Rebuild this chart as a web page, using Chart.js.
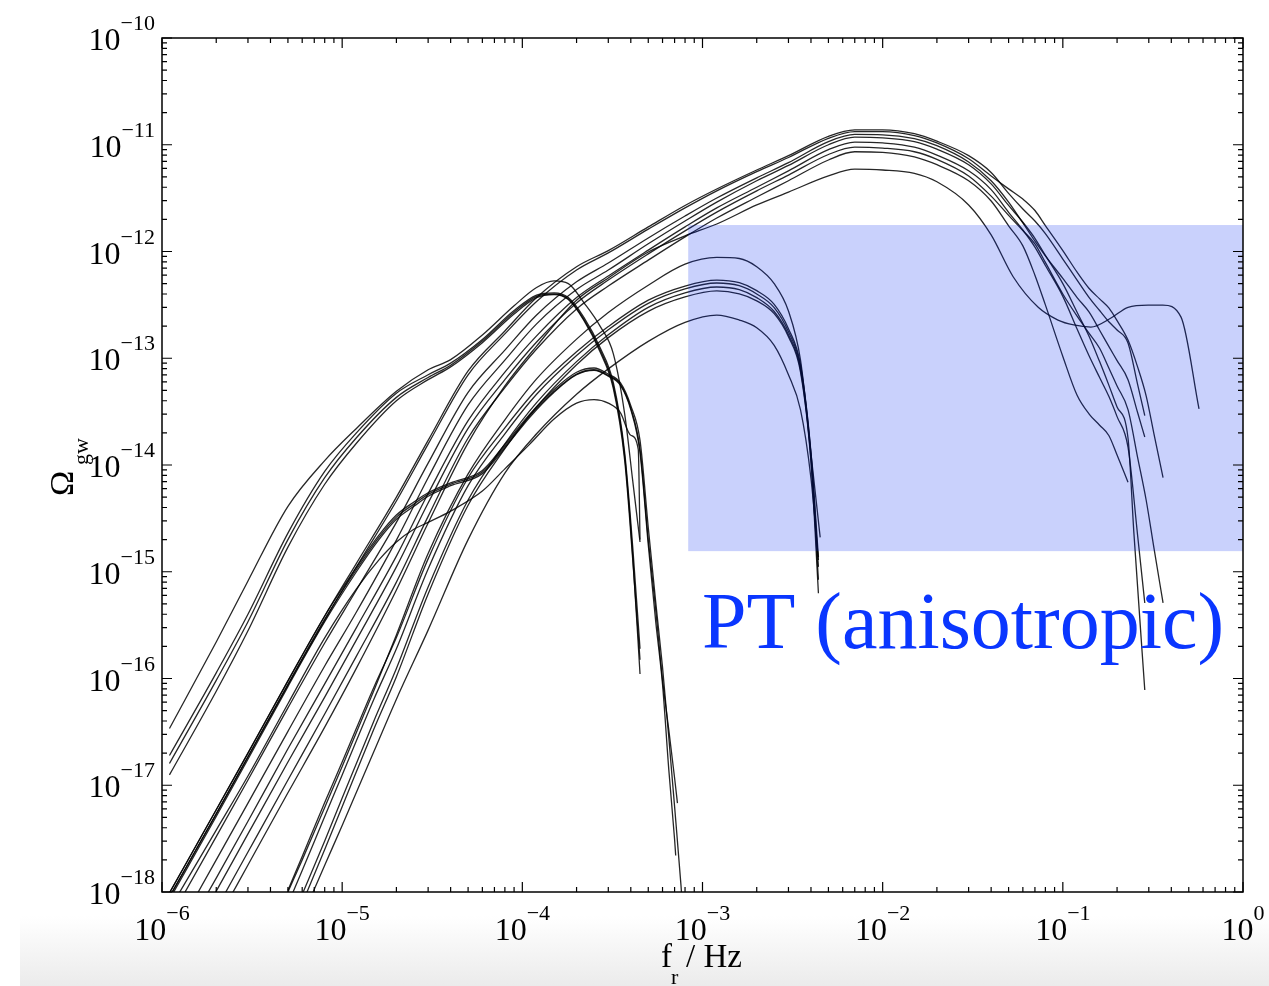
<!DOCTYPE html>
<html><head><meta charset="utf-8">
<script src="https://cdn.jsdelivr.net/npm/chart.js@4.4.1/dist/chart.umd.min.js"></script>
<style>
html,body{margin:0;padding:0;background:#fff;}
#wrap{position:relative;width:1269px;height:986px;overflow:hidden;}
#band{position:absolute;left:20px;top:916px;width:1249px;height:70px;background:linear-gradient(#ffffff,#ebebeb);}
canvas{position:absolute;left:0;top:0;}
</style></head><body>
<div id="wrap"><div id="band"></div><canvas id="c" width="1269" height="986"></canvas></div>
<script>
// ---------- axis ticks / labels ----------
const xMajor = [1e-6, 1e-5, 1e-4, 1e-3, 1e-2, 1e-1, 1];
const xExp = ['\u22126', '\u22125', '\u22124', '\u22123', '\u22122', '\u22121', '0'];
const yMajor = [1e-18, 1e-17, 1e-16, 1e-15, 1e-14, 1e-13, 1e-12, 1e-11, 1e-10];
const yExp = ['\u221218', '\u221217', '\u221216', '\u221215', '\u221214', '\u221213', '\u221212', '\u221211', '\u221210'];
const xTitle = ['f', 'r', '/ Hz'];
const yTitle = ['\u03A9', 'gw'];
const regionLabel = 'PT (anisotropic)';
const ptRegion = [8.33e-4, 1, 1.56e-15, 1.77e-12]; // f min, f max, Omega min, Omega max

// ---------- shoulder family ----------
const fS = [1.1e-6, 2e-6, 3e-6, 5e-6, 8e-6, 1.2e-5, 2e-5, 3e-5, 4e-5, 6e-5, 9e-5, 1.2e-4, 1.5e-4, 1.8e-4, 2.2e-4, 2.7e-4, 3.2e-4, 3.7e-4, 4.1e-4, 4.5e-4];
const omegaS1 = [3.4e-17, 2.2e-16, 8.2e-16, 4.1e-15, 1.1e-14, 2.2e-14, 4.9e-14, 7.8e-14, 9.7e-14, 1.65e-13, 3.1e-13, 4.6e-13, 5.3e-13, 5.0e-13, 3.3e-13, 2.0e-13, 1.1e-13, 3.0e-14, 7.1e-15, 1.9e-15];
const omegaS2 = [1.9e-17, 1.13e-16, 4.0e-16, 2.3e-15, 8.7e-15, 2.0e-14, 4.7e-14, 7.0e-14, 9.0e-14, 1.5e-13, 2.8e-13, 3.9e-13, 4.1e-13, 3.7e-13, 2.4e-13, 1.26e-13, 5.9e-14, 1.3e-14, 1.7e-15, 1.9e-16];
const omegaS3 = [1.6e-17, 9.6e-17, 3.4e-16, 2.0e-15, 7.6e-15, 1.8e-14, 4.3e-14, 6.6e-14, 8.6e-14, 1.45e-13, 2.7e-13, 3.8e-13, 4.0e-13, 3.6e-13, 2.3e-13, 1.2e-13, 5.5e-14, 1.2e-14, 1.4e-15, 1.1e-16];
const omegaS4 = [1.25e-17, 7.6e-17, 2.8e-16, 1.7e-15, 6.6e-15, 1.6e-14, 4.0e-14, 6.3e-14, 8.3e-14, 1.4e-13, 2.6e-13, 3.7e-13, 3.95e-13, 3.55e-13, 2.25e-13, 1.15e-13, 5.2e-14, 1.1e-14, 1.3e-15, 1.5e-16];

// ---------- kinked family ----------
const fP = [1.1e-6, 2e-6, 3e-6, 5e-6, 8e-6, 1.2e-5, 1.6e-5, 2e-5, 2.5e-5, 3e-5, 4e-5, 6e-5, 8e-5, 1.1e-4, 1.5e-4, 2e-4, 2.5e-4, 3e-4, 3.5e-4, 4e-4, 4.5e-4, 5e-4, 5.5e-4, 6e-4, 6.5e-4, 7e-4];
const fEndP1 = [7.6e-4, 7.8e-4];
const fEndP2 = [7.26e-4];
const fEndP3 = [7.1e-4];
const omegaP1 = [9.8e-19, 5.9e-18, 2.0e-17, 9.5e-17, 3.85e-16, 1.1e-15, 2.2e-15, 3.4e-15, 4.5e-15, 5.5e-15, 6.8e-15, 8.9e-15, 1.56e-14, 3.0e-14, 5.1e-14, 7.4e-14, 8.1e-14, 7.1e-14, 5.9e-14, 3.6e-14, 1.7e-14, 2.6e-15, 5.2e-16, 1.27e-16, 2.8e-17, 6.3e-18, 1.14e-18, 6e-19];
const omegaP2 = [9.0e-19, 5.4e-18, 1.85e-17, 8.8e-17, 3.6e-16, 1.05e-15, 2.1e-15, 3.25e-15, 4.3e-15, 5.3e-15, 6.6e-15, 8.6e-15, 1.5e-14, 2.9e-14, 4.9e-14, 7.1e-14, 7.8e-14, 6.9e-14, 5.7e-14, 3.4e-14, 1.4e-14, 2.0e-15, 4.4e-16, 9.7e-17, 3.3e-17, 1.17e-17, 6.8e-18];
const omegaP3 = [8.5e-19, 5.1e-18, 1.75e-17, 8.4e-17, 3.4e-16, 1.0e-15, 2.0e-15, 3.1e-15, 4.1e-15, 5.1e-15, 6.4e-15, 8.3e-15, 1.45e-14, 2.8e-14, 4.8e-14, 7.0e-14, 7.7e-14, 6.8e-14, 5.6e-14, 3.3e-14, 1.3e-14, 1.78e-15, 3.4e-16, 8.8e-17, 1.4e-17, 3.1e-18, 2.2e-18];
const fP4 = [1.2e-6, 2e-6, 3e-6, 5e-6, 8e-6, 1.2e-5, 1.6e-5, 2e-5, 2.5e-5, 3e-5, 4e-5, 6e-5, 8e-5, 1.1e-4, 1.5e-4, 2e-4, 2.5e-4, 3e-4, 3.5e-4, 4e-4, 4.4e-4, 4.5e-4];
const omegaP4 = [8.8e-19, 3.8e-18, 1.22e-17, 5.8e-17, 2.4e-16, 6.9e-16, 1.29e-15, 1.9e-15, 2.5e-15, 2.9e-15, 3.7e-15, 5.7e-15, 9.2e-15, 1.57e-14, 2.7e-14, 3.8e-14, 4.1e-14, 3.8e-14, 3.1e-14, 1.9e-14, 1.4e-14, 2.0e-15];

// ---------- broad family (peak near 7e-3) ----------
const fB = [1.1e-6, 2e-6, 3e-6, 5e-6, 8e-6, 1.2e-5, 2e-5, 3e-5, 5e-5, 8e-5, 1.2e-4, 2e-4, 3e-4, 5e-4, 8e-4, 1.2e-3, 2e-3, 3e-3, 5e-3, 7e-3, 1e-2, 1.5e-2, 2e-2, 3e-2, 4e-2];
const omegaB1 = [9.8e-19, 5.9e-18, 2.0e-17, 9.5e-17, 3.85e-16, 1.2e-15, 5.0e-15, 1.7e-14, 7.6e-14, 1.8e-13, 3.7e-13, 7.2e-13, 1.02e-12, 1.7e-12, 2.7e-12, 3.85e-12, 5.8e-12, 7.9e-12, 1.2e-11, 1.38e-11, 1.38e-11, 1.27e-11, 1.08e-11, 7.9e-12, 5.5e-12];
const omegaB2 = [9.0e-19, 5.4e-18, 1.84e-17, 8.7e-17, 3.5e-16, 1.11e-15, 4.6e-15, 1.57e-14, 7.0e-14, 1.69e-13, 3.4e-13, 6.7e-13, 9.7e-13, 1.62e-12, 2.56e-12, 3.7e-12, 5.6e-12, 7.6e-12, 1.15e-11, 1.33e-11, 1.33e-11, 1.22e-11, 1.04e-11, 7.4e-12, 5.1e-12];
const omegaB3 = [5.5e-19, 3.3e-18, 1.12e-17, 5.3e-17, 2.15e-16, 6.75e-16, 2.9e-15, 1.04e-14, 4.8e-14, 1.19e-13, 2.54e-13, 5.2e-13, 7.8e-13, 1.34e-12, 2.15e-12, 3.17e-12, 4.9e-12, 6.8e-12, 1.07e-11, 1.25e-11, 1.24e-11, 1.14e-11, 9.8e-12, 6.9e-12, 4.6e-12];
const omegaB4 = [3.3e-19, 2.0e-18, 6.8e-18, 3.2e-17, 1.31e-16, 4.2e-16, 1.98e-15, 7.6e-15, 3.65e-14, 9.6e-14, 2.1e-13, 4.4e-13, 6.7e-13, 1.18e-12, 1.93e-12, 2.9e-12, 4.6e-12, 6.4e-12, 1.0e-11, 1.18e-11, 1.16e-11, 1.07e-11, 9.1e-12, 6.5e-12, 4.3e-12];
const omegaB5 = [2.3e-19, 1.35e-18, 4.6e-18, 2.2e-17, 8.9e-17, 3.0e-16, 1.4e-15, 5.4e-15, 2.6e-14, 7.4e-14, 1.62e-13, 3.7e-13, 5.9e-13, 1.03e-12, 1.7e-12, 2.56e-12, 4.0e-12, 5.7e-12, 9.0e-12, 1.06e-11, 1.04e-11, 9.5e-12, 8.0e-12, 5.7e-12, 3.8e-12];
const omegaB6 = [1.7e-19, 1.02e-18, 3.5e-18, 1.65e-17, 6.7e-17, 2.3e-16, 1.11e-15, 4.4e-15, 2.2e-14, 6.3e-14, 1.42e-13, 3.3e-13, 5.4e-13, 9.5e-13, 1.56e-12, 2.34e-12, 3.7e-12, 5.2e-12, 8.1e-12, 9.5e-12, 9.3e-12, 8.6e-12, 7.3e-12, 5.1e-12, 3.3e-12];
const omegaB7 = [1.16e-19, 6.9e-19, 2.37e-18, 1.12e-17, 4.65e-17, 1.62e-16, 8.0e-16, 3.3e-15, 1.79e-14, 5.3e-14, 1.22e-13, 2.9e-13, 4.75e-13, 8.3e-13, 1.37e-12, 2.06e-12, 3.24e-12, 4.6e-12, 7.2e-12, 8.6e-12, 8.5e-12, 7.7e-12, 6.5e-12, 4.6e-12, 2.97e-12];
const omegaB8 = [8.7e-20, 5.2e-19, 1.79e-18, 8.5e-18, 3.5e-17, 1.25e-16, 6.75e-16, 2.86e-15, 1.61e-14, 5.5e-14, 1.3e-13, 3.5e-13, 5.65e-13, 9.9e-13, 1.4e-12, 1.81e-12, 2.73e-12, 3.6e-12, 5.1e-12, 5.9e-12, 5.8e-12, 5.4e-12, 4.5e-12, 2.73e-12, 1.43e-12];

const fTailB1 = [5e-2, 6e-2, 7e-2, 8e-2, 1e-1, 1.2e-1, 1.4e-1, 1.6e-1, 1.8e-1, 2e-1, 2.3e-1, 2.6e-1, 2.85e-1];
const omegaTailB1 = [3.5e-12, 2.5e-12, 1.93e-12, 1.47e-12, 8.5e-13, 5.4e-13, 3.7e-13, 2.8e-13, 2.2e-13, 1.84e-13, 1.39e-13, 5.7e-14, 2.9e-14];
const fTailB2 = [5e-2, 6e-2, 7e-2, 8e-2, 1e-1, 1.2e-1, 1.4e-1, 1.6e-1, 1.8e-1, 2e-1, 2.3e-1, 2.6e-1, 2.9e-1, 3.2e-1, 3.6e-1];
const omegaTailB2 = [3.86e-12, 3.1e-12, 2.42e-12, 1.75e-12, 1.02e-12, 6.4e-13, 4.5e-13, 3.6e-13, 2.96e-13, 2.25e-13, 1.48e-13, 8.3e-14, 4.45e-14, 1.98e-14, 7.6e-15];
const fTailB3 = [5e-2, 6e-2, 7e-2, 8e-2, 1e-1, 1.2e-1, 1.4e-1, 1.6e-1, 1.8e-1, 2e-1, 2.3e-1, 2.6e-1, 2.85e-1];
const omegaTailB3 = [2.9e-12, 1.85e-12, 1.25e-12, 9.1e-13, 5.6e-13, 3.7e-13, 2.7e-13, 1.83e-13, 1.29e-13, 9.5e-14, 6.3e-14, 3.1e-14, 1.83e-14];
const fTailB4 = [5e-2, 6e-2, 7e-2, 8e-2, 1e-1, 1.2e-1, 1.4e-1, 1.6e-1, 1.8e-1, 2e-1, 2.3e-1, 2.48e-1, 2.85e-1];
const omegaTailB4 = [2.7e-12, 1.88e-12, 1.33e-12, 9.2e-13, 5.0e-13, 2.7e-13, 1.6e-13, 9.3e-14, 5.6e-14, 3.5e-14, 1.79e-14, 2.3e-15, 7.8e-17];
const fTailB5 = [5e-2, 6e-2, 7e-2, 8e-2, 1e-1, 1.2e-1, 1.4e-1, 1.6e-1, 1.8e-1, 2e-1, 2.3e-1, 2.6e-1, 2.85e-1];
const omegaTailB5 = [2.33e-12, 1.59e-12, 1.1e-12, 7.4e-13, 3.8e-13, 1.88e-13, 1.05e-13, 6.6e-14, 4.4e-14, 2.84e-14, 1.47e-14, 2.2e-15, 5.1e-16];
const fTailB6 = [5e-2, 6e-2, 7e-2, 8e-2, 1e-1, 1.2e-1, 1.4e-1, 1.6e-1, 1.8e-1, 2e-1, 2.3e-1, 2.6e-1, 2.9e-1, 3.2e-1, 3.6e-1];
const omegaTailB6 = [2.18e-12, 1.57e-12, 1.18e-12, 7.9e-13, 4.0e-13, 2.48e-13, 1.71e-13, 1.24e-13, 8.1e-14, 5.5e-14, 3.3e-14, 1.18e-14, 4.7e-15, 1.69e-15, 5.1e-16];
const fTailB7 = [5e-2, 6e-2, 7e-2, 8e-2, 1e-1, 1.2e-1, 1.4e-1, 1.6e-1, 1.8e-1, 2e-1, 2.3e-1];
const omegaTailB7 = [1.74e-12, 1.13e-12, 6.0e-13, 3.16e-13, 1.04e-13, 4.5e-14, 3.0e-14, 2.36e-14, 1.89e-14, 1.24e-14, 6.9e-15];
const fTailB8 = [5.3e-2, 7.3e-2, 9.4e-2, 1.15e-1, 1.43e-1, 1.85e-1, 2.3e-1, 2.97e-1, 3.59e-1, 4.53e-1, 5.7e-1];
const omegaTailB8 = [5.8e-13, 3.0e-13, 2.28e-13, 2.05e-13, 1.96e-13, 2.38e-13, 3.0e-13, 3.15e-13, 3.15e-13, 2.43e-13, 3.35e-14];

// ---------- middle family (peak near 1.3e-3) ----------
const fM = [5e-6, 6e-6, 8e-6, 1e-5, 1.5e-5, 2e-5, 3e-5, 5e-5, 8e-5, 1.2e-4, 2e-4, 3e-4, 5e-4, 8e-4, 1.2e-3, 1.6e-3, 2e-3, 2.5e-3, 3e-3, 3.5e-3, 4e-3];
const fEndM1 = [4.5e-3];
const fEndM = [4.4e-3];
const omegaM1 = [1.0e-18, 2.0e-18, 6.2e-18, 1.5e-17, 7.7e-17, 2.56e-16, 1.48e-15, 8.25e-15, 2.65e-14, 6.4e-14, 1.51e-13, 2.68e-13, 4.83e-13, 7.6e-13, 8.8e-13, 8.6e-13, 7.2e-13, 5.0e-13, 2.77e-13, 9.6e-14, 1.28e-14, 2.1e-15];
const omegaM2 = [1.04e-18, 2.15e-18, 6.9e-18, 1.65e-17, 8.3e-17, 2.42e-16, 1.32e-15, 7.6e-15, 2.23e-14, 5.1e-14, 1.15e-13, 1.98e-13, 3.5e-13, 4.75e-13, 5.4e-13, 5.1e-13, 4.3e-13, 3.2e-13, 1.89e-13, 8.7e-14, 1.31e-14, 1.37e-15];
const omegaM3 = [7.7e-19, 1.59e-18, 5.1e-18, 1.25e-17, 6.4e-17, 1.9e-16, 1.06e-15, 6.4e-15, 1.96e-14, 4.6e-14, 1.06e-13, 1.85e-13, 3.27e-13, 4.46e-13, 5.07e-13, 4.78e-13, 4.0e-13, 2.98e-13, 1.77e-13, 8.3e-14, 1.26e-14, 1.11e-15];
const omegaM4 = [4.6e-19, 9.5e-19, 3.0e-18, 7.6e-18, 4.0e-17, 1.24e-16, 7.2e-16, 4.7e-15, 1.58e-14, 3.84e-14, 9.3e-14, 1.66e-13, 3.0e-13, 4.1e-13, 4.65e-13, 4.4e-13, 3.7e-13, 2.74e-13, 1.66e-13, 7.8e-14, 1.13e-14, 8.4e-16];
const omegaM5 = [3.8e-19, 7.8e-19, 2.5e-18, 6.3e-18, 3.36e-17, 1.04e-16, 6.2e-16, 4.2e-15, 1.42e-14, 3.5e-14, 8.7e-14, 1.56e-13, 2.75e-13, 3.75e-13, 4.27e-13, 4.0e-13, 3.45e-13, 2.62e-13, 1.59e-13, 7.4e-14, 1.06e-14, 6.3e-16];
const omegaM6 = [2.9e-19, 5.8e-19, 1.78e-18, 4.2e-18, 2.07e-17, 6.4e-17, 2.84e-16, 2.0e-15, 8.4e-15, 1.96e-14, 4.6e-14, 7.95e-14, 1.44e-13, 2.17e-13, 2.54e-13, 2.28e-13, 1.93e-13, 1.32e-13, 7.0e-14, 3.28e-14, 7.5e-15, 1.29e-15];

// ---------- build series ----------
function series(fArr, oArr) { return oArr.map((v, i) => ({ x: fArr[i], y: v })); }
const curves = [
  series(fS, omegaS1), series(fS, omegaS2), series(fS, omegaS3), series(fS, omegaS4),
  series(fP.concat(fEndP1), omegaP1), series(fP.concat(fEndP2), omegaP2), series(fP.concat(fEndP3), omegaP3), series(fP4, omegaP4),
  series(fB.concat(fTailB1), omegaB1.concat(omegaTailB1)),
  series(fB.concat(fTailB2), omegaB2.concat(omegaTailB2)),
  series(fB.concat(fTailB3), omegaB3.concat(omegaTailB3)),
  series(fB.concat(fTailB4), omegaB4.concat(omegaTailB4)),
  series(fB.concat(fTailB5), omegaB5.concat(omegaTailB5)),
  series(fB.concat(fTailB6), omegaB6.concat(omegaTailB6)),
  series(fB.concat(fTailB7), omegaB7.concat(omegaTailB7)),
  series(fB.concat(fTailB8), omegaB8.concat(omegaTailB8)),
  series(fM.concat(fEndM1), omegaM1), series(fM.concat(fEndM), omegaM2), series(fM.concat(fEndM), omegaM3),
  series(fM.concat(fEndM), omegaM4), series(fM.concat(fEndM), omegaM5), series(fM.concat(fEndM), omegaM6)
];

const SERIF = '"Liberation Serif", "Times New Roman", serif';

const framePlugin = {
  id: 'frame',
  afterDatasetsDraw(chart) {
    const { ctx, chartArea: a, scales: { x, y } } = chart;
    // translucent region
    ctx.save();
    ctx.beginPath(); ctx.rect(a.left, a.top, a.right - a.left, a.bottom - a.top); ctx.clip();
    const rx0 = x.getPixelForValue(ptRegion[0]), rx1 = x.getPixelForValue(ptRegion[1]);
    const ry0 = y.getPixelForValue(ptRegion[3]), ry1 = y.getPixelForValue(ptRegion[2]);
    ctx.fillStyle = 'rgba(0,40,240,0.21)';
    ctx.fillRect(rx0, ry0, rx1 - rx0, ry1 - ry0);
    ctx.restore();

    ctx.save();
    ctx.strokeStyle = '#000';
    ctx.lineWidth = 1.5;
    ctx.strokeRect(a.left, a.top, a.right - a.left, a.bottom - a.top);
    ctx.lineWidth = 1.2;
    ctx.beginPath();
    const MAJ = 10, MIN = 5;
    xMajor.forEach((v, i) => {
      const p = x.getPixelForValue(v);
      ctx.moveTo(p, a.bottom); ctx.lineTo(p, a.bottom - MAJ);
      ctx.moveTo(p, a.top); ctx.lineTo(p, a.top + MAJ);
      if (i < xMajor.length - 1) for (let m = 2; m <= 9; m++) {
        const q = x.getPixelForValue(v * m);
        ctx.moveTo(q, a.bottom); ctx.lineTo(q, a.bottom - MIN);
        ctx.moveTo(q, a.top); ctx.lineTo(q, a.top + MIN);
      }
    });
    yMajor.forEach((v, i) => {
      const p = y.getPixelForValue(v);
      ctx.moveTo(a.left, p); ctx.lineTo(a.left + MAJ, p);
      ctx.moveTo(a.right, p); ctx.lineTo(a.right - MAJ, p);
      if (i < yMajor.length - 1) for (let m = 2; m <= 9; m++) {
        const q = y.getPixelForValue(v * m);
        ctx.moveTo(a.left, q); ctx.lineTo(a.left + MIN, q);
        ctx.moveTo(a.right, q); ctx.lineTo(a.right - MIN, q);
      }
    });
    ctx.stroke();

    // tick labels
    ctx.fillStyle = '#000';
    ctx.textBaseline = 'alphabetic';
    ctx.textAlign = 'left';
    const big = '32px ' + SERIF, small = '22px ' + SERIF;
    yMajor.forEach((v, i) => {
      const p = y.getPixelForValue(v);
      ctx.font = small; const w2 = ctx.measureText(yExp[i]).width;
      ctx.font = big; const w1 = ctx.measureText('10').width;
      const right = 155;
      ctx.fillText('10', right - w2 - w1, p + 12);
      ctx.font = small; ctx.fillText(yExp[i], right - w2, p - 8);
    });
    xMajor.forEach((v, i) => {
      const p = x.getPixelForValue(v);
      ctx.font = small; const w2 = ctx.measureText(xExp[i]).width;
      ctx.font = big; const w1 = ctx.measureText('10').width;
      const left = p - (w1 + w2) / 2;
      ctx.fillText('10', left, 940);
      ctx.font = small; ctx.fillText(xExp[i], left + w1, 920);
    });

    // axis titles
    ctx.font = '33px ' + SERIF;
    ctx.fillText(xTitle[0], 661, 967);
    const wf = ctx.measureText(xTitle[0]).width;
    ctx.font = small;
    ctx.fillText(xTitle[1], 661 + wf - 1, 984);
    ctx.font = '33px ' + SERIF;
    ctx.fillText(xTitle[2], 686, 967);

    ctx.save();
    ctx.translate(73, 496);
    ctx.rotate(-Math.PI / 2);
    ctx.font = '34px ' + SERIF;
    ctx.fillText(yTitle[0], 0, 0);
    ctx.font = small;
    ctx.fillText(yTitle[1], 31, 15);
    ctx.restore();

    // region label
    ctx.fillStyle = '#0a36ff';
    ctx.font = '80px ' + SERIF;
    ctx.fillText(regionLabel, 702, 648);
    ctx.restore();
  }
};

new Chart(document.getElementById('c'), {
  type: 'line',
  data: {
    datasets: curves.map(c => ({
      data: c,
      borderColor: 'rgba(0,0,0,0.85)',
      borderWidth: 1.3,
      pointRadius: 0,
      fill: false,
      cubicInterpolationMode: 'monotone'
    }))
  },
  options: {
    responsive: false,
    devicePixelRatio: 1,
    animation: false,
    layout: { padding: { left: 162, right: 26, top: 38, bottom: 94 } },
    plugins: { legend: { display: false }, tooltip: { enabled: false } },
    scales: {
      x: { type: 'logarithmic', min: 1e-6, max: 1, display: false },
      y: { type: 'logarithmic', min: 1e-18, max: 1e-10, display: false }
    }
  },
  plugins: [framePlugin]
});
</script>
</body></html>
